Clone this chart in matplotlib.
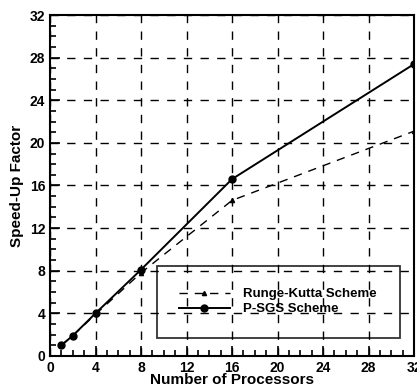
import matplotlib
matplotlib.use("Agg")
import matplotlib.pyplot as plt
from matplotlib.ticker import MultipleLocator

plt.rcParams['font.family'] = ['Liberation Sans', 'DejaVu Sans']
plt.rcParams['font.weight'] = 'bold'

processors = [1, 2, 4, 8, 16, 32]
rk_speedup = [1.0, 1.9, 3.9, 7.8, 14.6, 21.1]
psgs_speedup = [1.0, 1.9, 4.0, 8.1, 16.6, 27.4]
xticks = [0, 4, 8, 12, 16, 20, 24, 28, 32]
yticks = [0, 4, 8, 12, 16, 20, 24, 28, 32]

fig = plt.figure(figsize=(4.17, 3.86), dpi=100)
ax = fig.add_axes([0.12, 0.078, 0.873, 0.883])

ax.plot(processors, rk_speedup, color='black', lw=1.0, ls=(0, (6, 5)),
        marker='^', ms=3, label='Runge-Kutta Scheme')
ax.plot(processors, psgs_speedup, color='black', lw=1.4, ls='-',
        marker='o', ms=5, label='P-SGS Scheme')

ax.set_xlim(0, 32)
ax.set_ylim(0, 32)
ax.set_xticks(xticks)
ax.set_yticks(yticks)
ax.xaxis.set_minor_locator(MultipleLocator(1))
ax.yaxis.set_minor_locator(MultipleLocator(1))
ax.tick_params(which='both', direction='in', top=False, right=False,
               labelsize=10, width=1.2)
ax.tick_params(which='major', length=7)
ax.tick_params(which='minor', length=4)
ax.grid(True, which='major', color='black', ls=(0, (6, 6)), lw=1.0)
for s in ax.spines.values():
    s.set_linewidth(1.5)

ax.set_xlabel('Number of Processors', fontsize=11, fontweight='bold', labelpad=-1)
ax.set_ylabel('Speed-Up Factor', fontsize=11, fontweight='bold', labelpad=4)

leg = ax.legend(loc='lower left', bbox_to_anchor=(9.4 / 32, 1.7 / 32, 21.4 / 32, 6.65 / 32),
                mode='expand', frameon=True, fancybox=False, edgecolor='black',
                fontsize=9.5, handlelength=3.8, handletextpad=1.0, borderpad=1.7,
                labelspacing=0.2, borderaxespad=0)
leg.get_frame().set_facecolor('none')
leg.get_frame().set_linewidth(1.3)

fig.savefig('out.png', dpi=100)
